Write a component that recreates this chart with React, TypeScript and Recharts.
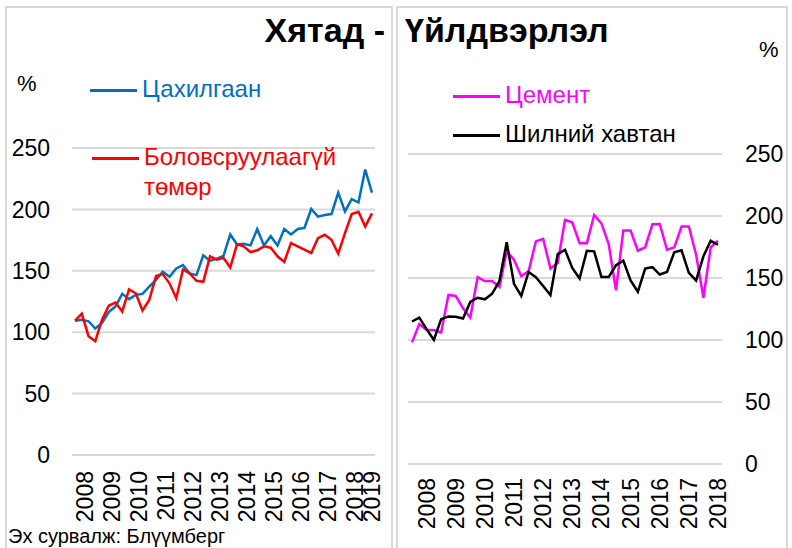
import React from 'react'
import { LineChart, Line, XAxis, YAxis, CartesianGrid } from 'recharts'

// quarterly index values
const electricity = [
  109.4, 110.2, 108.9, 103, 107.5, 116.4, 121, 131.2, 126.9, 130.4, 131.2, 137.1,
  142.5, 149.2, 145.2, 151.9, 154.6, 147.8, 146.5, 162.6, 158.1, 159.9, 162.1, 179.6,
  171.5, 172, 170.7, 184.1, 170.7, 178.2, 170.7, 184.1, 179.6, 184.1, 184.9, 200.3,
  194.1, 195.4, 196.2, 213.7, 198.4, 208.3, 205.6, 232.5, 213.7,
]
const pigIron = [
  109.4, 115.1, 96.8, 92.7, 110.2, 121.5, 124.2, 116.9, 134.9, 131.7, 117.7, 126.3,
  145.7, 147.3, 139.8, 127.7, 151.1, 147.8, 141.9, 141.1, 161.8, 159.1, 160.5, 152.7,
  171.5, 169.9, 165.3, 166.7, 169.9, 168.8, 161.8, 157.3, 172.6, 169.9, 167.2, 164.5,
  176.6, 179.3, 175.3, 164, 180.6, 196.2, 198.1, 186, 196.8,
]
const cement = [
  98.1, 112.8, 108, 108, 106.1, 136.3, 135.5, 125.6, 118.1, 150.7, 147.5, 147.5,
  142.7, 171.5, 164.8, 151.5, 155.5, 179.5, 181.6, 157.6, 162.1, 196.8, 194.9, 178.1,
  178.1, 200.8, 194.1, 177.3, 140, 188.3, 188.3, 172, 174.7, 193.3, 193.6, 172.8,
  174.7, 191.5, 191.5, 168.8, 134.1, 174.7, 180,
]
const flatGlass = [
  114.9, 118.1, 108.8, 100, 116.8, 118.9, 118.7, 117.3, 130.7, 134.1, 132.8, 137.3,
  147.5, 178.9, 145.3, 135.5, 154.9, 150.7, 143.5, 136.3, 169.3, 172.8, 158.1, 149.6,
  172, 171.5, 150.9, 150.9, 160.3, 164, 148, 138.9, 157.6, 158.7, 152.8, 154.9,
  170.7, 172.3, 154.1, 148, 167.5, 180, 176.8,
]
const leftYears = ['2008', '2009', '2010', '2011', '2012', '2013', '2014', '2015', '2016', '2017', '2018', '2019']
const rightYears = ['2008', '2009', '2010', '2011', '2012', '2013', '2014', '2015', '2016', '2017', '2018']
const yTicks = [0, 50, 100, 150, 200, 250]

const FONT = "Arial, 'Liberation Sans', sans-serif"
const GRID = '#d9d9d9'

const leftData = electricity.map((v, i) => ({ i, elec: v, iron: pigIron[i] }))
const rightData = cement.map((v, i) => ({ i, cement: v, glass: flatGlass[i] }))

// year label positions on the quarter index
const leftTickPos = leftYears.map((_, k) => (k < leftYears.length - 1 ? 1.5 + 4 * k : leftData.length - 1))
const rightTickPos = rightYears.map((_, k) => 2 + 4 * k)

function yearTick(years: string[], positions: number[]) {
  return (props: any) => {
    const { x, y, payload } = props
    const label = years[positions.indexOf(payload.value)]
    return (
      <text x={x} y={y} transform={`rotate(-90 ${x} ${y})`} textAnchor="end" dominantBaseline="central"
        fontSize={23} fill="#000" fontFamily={FONT}>
        {label}
      </text>
    )
  }
}

const legendLine = (color: string) => (
  <span style={{ display: 'inline-block', width: 47, height: 3, background: color, marginRight: 5, verticalAlign: 'middle' }} />
)

export default function App() {
  return (
    <div style={{ position: 'absolute', left: 0, top: 0, width: 792, height: 548, background: '#fff', overflow: 'hidden', fontFamily: FONT }}>
      {/* panel frames */}
      <div style={{ position: 'absolute', left: 5, top: 6, width: 388, height: 560, border: `2px solid ${GRID}`, boxSizing: 'border-box' }} />
      <div style={{ position: 'absolute', left: 396, top: 6, width: 392, height: 560, border: `2px solid ${GRID}`, boxSizing: 'border-box' }} />

      <div style={{ position: 'absolute', left: 0, top: 0 }}>
        <LineChart width={395} height={548} data={leftData} margin={{ top: 148, right: 20, left: 0, bottom: 0 }}>
          <CartesianGrid vertical={false} stroke={GRID} strokeWidth={2} />
          <XAxis dataKey="i" type="number" domain={[-0.45, 44.45]} ticks={leftTickPos} interval={0}
            axisLine={false} tickLine={false} tickSize={0} tickMargin={16} height={93}
            tick={yearTick(leftYears, leftTickPos)} />
          <YAxis domain={[0, 250]} ticks={yTicks} width={72} axisLine={false} tickLine={false}
            tickSize={0} tickMargin={22} tick={{ fontSize: 23, fill: '#000', fontFamily: FONT }} />
          <Line dataKey="elec" stroke="#0070C0" strokeWidth={2.5} dot={false} isAnimationActive={false} />
          <Line dataKey="iron" stroke="#FF0000" strokeWidth={2.5} dot={false} isAnimationActive={false} />
        </LineChart>
      </div>

      <div style={{ position: 'absolute', left: 397, top: 0 }}>
        <LineChart width={395} height={548} data={rightData} margin={{ top: 154, right: 0, left: 11, bottom: 0 }}>
          <CartesianGrid vertical={false} stroke={GRID} strokeWidth={2} />
          <XAxis dataKey="i" type="number" domain={[-0.55, 42.55]} ticks={rightTickPos} interval={0}
            axisLine={false} tickLine={false} tickSize={0} tickMargin={14} height={84}
            tick={yearTick(rightYears, rightTickPos)} />
          <YAxis orientation="right" domain={[0, 250]} ticks={yTicks} width={70} axisLine={false} tickLine={false}
            tickSize={0} tickMargin={23} tick={{ fontSize: 23, fill: '#000', fontFamily: FONT }} />
          <Line dataKey="cement" stroke="#FF00FF" strokeWidth={2.5} dot={false} isAnimationActive={false} />
          <Line dataKey="glass" stroke="#000000" strokeWidth={2.5} dot={false} isAnimationActive={false} />
        </LineChart>
      </div>

      {/* titles */}
      <div style={{ position: 'absolute', right: 792 - 385, top: 11, fontSize: 34, fontWeight: 'bold', whiteSpace: 'nowrap' }}>Хятад -</div>
      <div style={{ position: 'absolute', left: 405, top: 11, fontSize: 34, fontWeight: 'bold', whiteSpace: 'nowrap' }}>Үйлдвэрлэл</div>

      {/* unit labels */}
      <div style={{ position: 'absolute', left: 17, top: 71, fontSize: 22 }}>%</div>
      <div style={{ position: 'absolute', left: 759, top: 37, fontSize: 22 }}>%</div>

      {/* legends */}
      <div style={{ position: 'absolute', left: 90, top: 75, fontSize: 24, color: '#0070C0', whiteSpace: 'nowrap' }}>
        {legendLine('#0070C0')}Цахилгаан
      </div>
      <div style={{ position: 'absolute', left: 92, top: 142, fontSize: 24, color: '#FF0000', lineHeight: '30px' }}>
        {legendLine('#FF0000')}Боловсруулаагүй<br />
        <span style={{ marginLeft: 52 }}>төмөр</span>
      </div>
      <div style={{ position: 'absolute', left: 453, top: 81, fontSize: 24, color: '#FF00FF', whiteSpace: 'nowrap' }}>
        {legendLine('#FF00FF')}Цемент
      </div>
      <div style={{ position: 'absolute', left: 453, top: 120, fontSize: 24, color: '#000', whiteSpace: 'nowrap' }}>
        {legendLine('#000')}Шилний хавтан
      </div>

      <div style={{ position: 'absolute', left: 8, top: 525, fontSize: 20, whiteSpace: 'nowrap' }}>Эх сурвалж: Блүүмберг</div>
    </div>
  )
}
